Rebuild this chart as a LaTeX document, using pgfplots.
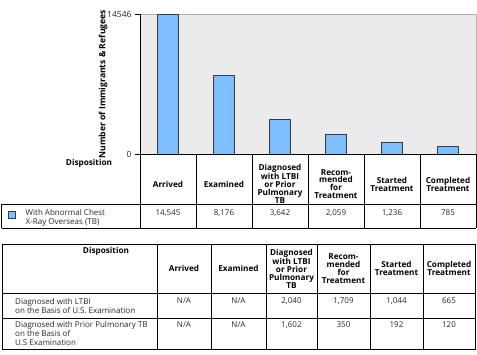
\documentclass[border=0pt]{standalone}
\usepackage{pgfplots}
\pgfplotsset{compat=1.18}
\usepackage{fontspec}
\setmainfont{Open Sans}
\definecolor{barblue}{RGB}{128,191,255}
\definecolor{baredge}{RGB}{50,60,75}
\definecolor{bgray}{RGB}{235,235,235}
\definecolor{txt}{RGB}{40,40,40}
\newcommand{\hf}{\fontsize{8.2}{7.9}\selectfont}
\newcommand{\rf}{\fontsize{8.0}{9.2}\selectfont}
\pgfplotsset{sqlegend/.style={legend image code/.code={\draw[##1,line width=0.6pt] (0pt,-1pt) rectangle (7pt,6pt);}}}
\begin{document}
\begin{tikzpicture}[x=1pt,y=1pt]
\useasboundingbox (0,0) rectangle (477,355);
\begin{axis}[
  at={(140pt,201pt)}, anchor=south west,
  scale only axis, width=336pt, height=139.5pt,
  xmin=-0.5, xmax=5.5, ymin=0, ymax=14546,
  ybar, bar width=21pt,
  axis background/.style={fill=bgray},
  axis line style={draw=gray!60},
  xtick={0,...,5},
  xticklabels={Arrived, Examined, {Diagnosed\\with LTBI\\or Prior\\Pulmonary\\TB}, {Recom-\\mended\\for\\Treatment}, {Started\\Treatment}, {Completed\\Treatment}},
  xticklabel style={anchor=center, yshift=-25pt, align=center, font=\bfseries\hf},
  major x tick style={draw=none},
  xtick pos=bottom, ytick pos=left,
  ytick={0,14546},
  scaled y ticks=false,
  yticklabel style={font=\fontsize{8.5}{9}\selectfont, text=txt},
  /pgf/number format/assume math mode=true,
  /pgf/number format/1000 sep={},
  tick align=outside, major tick length=5pt,
  ytick style={black, line width=0.6pt},
  ylabel={\bfseries\fontsize{8.6}{9}\selectfont Number of Immigrants \& Refugees},
  ylabel style={at={(axis description cs:-0.1101,0.5)}, anchor=center},
  clip=false,
  legend style={at={(axis description cs:-0.393,-0.455)}, anchor=west, draw=none, fill=none, inner sep=0pt, font=\rf, cells={align=left, text=txt}, column sep=8pt},
  legend cell align=left,
]
\addplot[fill=barblue, draw=baredge, line width=0.8pt, sqlegend]
  coordinates {(0,14545) (1,8176) (2,3642) (3,2059) (4,1236) (5,785)};
\addlegendentry{With Abnormal Chest\\X-Ray Overseas (TB)}
\draw[black, line width=0.7pt] (rel axis cs:0,1) -- (rel axis cs:0,0) -- (rel axis cs:1,0);
\end{axis}
% table 1 grid
\begin{scope}[line width=0.7pt, black]
\draw (1.5,151) -- (476,151);
\draw (1.5,127) -- (476,127);
\draw (1.5,151) -- (1.5,127);
\foreach \x in {140,196,252,308,364,420,476} \draw (\x,201) -- (\x,127);
\end{scope}
\node[font=\bfseries\hf] at (89,192) {Disposition};
\foreach \x/\v in {168/{14,545},224/{8,176},280/{3,642},336/{2,059},392/{1,236},448/785}
  \node[font=\rf, text=txt] at (\x,142) {\v};
% table 2 grid
\begin{scope}[line width=0.7pt, black]
\draw (2,111) rectangle (475,6);
\draw (2,62) -- (475,62);
\draw (2,37) -- (475,37);
\foreach \x in {157,211,266,317,370,423} \draw (\x,111) -- (\x,6);
\end{scope}
\node[font=\bfseries\hf] at (106,104) {Disposition};
\foreach \x/\t in {184/Arrived,238.5/Examined,291.5/{Diagnosed\\with LTBI\\or Prior\\Pulmonary\\TB},343.5/{Recom-\\mended\\for\\Treatment},396.5/{Started\\Treatment},449/{Completed\\Treatment}}
  \node[font=\bfseries\hf, align=center] at (\x,86.5) {\t};
\node[font=\rf, text=txt, align=left, anchor=north west, inner sep=0pt] at (15,57) {Diagnosed with LTBI\\on the Basis of U.S. Examination};
\node[font=\rf, text=txt, align=left, anchor=north west, inner sep=0pt] at (15,34) {Diagnosed with Prior Pulmonary TB\\on the Basis of\\U.S Examination};
\foreach \x/\v in {184/N\slash A,238.5/N\slash A,291.5/{2,040},343.5/{1,709},396.5/{1,044},449/665}
  \node[font=\rf, text=txt] at (\x,54) {\v};
\foreach \x/\v in {184/N\slash A,238.5/N\slash A,291.5/{1,602},343.5/350,396.5/192,449/120}
  \node[font=\rf, text=txt] at (\x,30) {\v};
\end{tikzpicture}
\end{document}
